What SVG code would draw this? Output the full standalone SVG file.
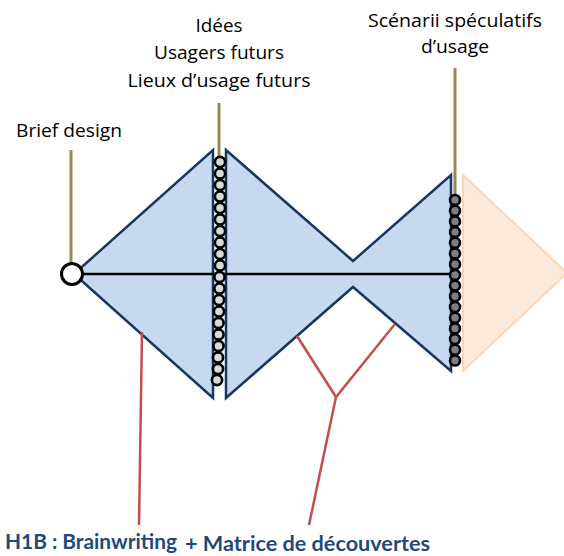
<svg xmlns="http://www.w3.org/2000/svg" width="564" height="556" viewBox="0 0 564 556">
<style>
.lbl{font-family:"Open Sans","Liberation Sans",sans-serif;font-size:19px;fill:#000;text-anchor:middle}
.bot{font-family:Lato,"Open Sans","Liberation Sans",sans-serif;font-size:21px;font-weight:bold;fill:#1f497d}
.blue{fill:#c6d9f1;stroke:#17375e;stroke-width:2.5;stroke-linejoin:miter}
.stalk{stroke:#948a54;stroke-width:3;fill:none}
.red{stroke:#c0504d;stroke-width:2.5;fill:none}
.c1{fill:#d9d9d9;stroke:#000;stroke-width:2.6}
.c2{fill:#7f7f7f;stroke:#000;stroke-width:2.6}
</style>
<rect width="564" height="556" fill="#fff"/>
<g id="shapes">
<polygon class="blue" points="74,274 213,150 213,398"/>
<polygon class="blue" points="226,150 353,261 451,175 451,371 353,287 226,398"/>
<polygon points="463,175 567,273 463,371" fill="#fde9d9" stroke="#fcd5b4" stroke-width="2"/>
</g>
<g id="connectors">
<line x1="74" y1="274" x2="451" y2="274" stroke="#000" stroke-width="2.5"/>
<line class="stalk" x1="71" y1="150" x2="71" y2="263"/>
<line class="stalk" x1="219" y1="103" x2="219" y2="157"/>
<line class="stalk" x1="455" y1="68" x2="455" y2="196"/>
<line class="red" x1="142" y1="332" x2="139" y2="525"/>
<polyline class="red" points="297,336 336,397 395,324"/>
<line class="red" x1="336" y1="397" x2="309" y2="525"/>
</g>
<g id="brief">
<circle cx="72" cy="274" r="10.5" fill="#fff" stroke="#000" stroke-width="3"/>
<text class="lbl" x="69" y="137" textLength="106" lengthAdjust="spacingAndGlyphs">Brief design</text>
</g>
<g id="ideas">
<circle class="c1" cx="220" cy="162" r="5.1"/>
<circle class="c1" cx="220" cy="173.5" r="5.1"/>
<circle class="c1" cx="220" cy="185" r="5.1"/>
<circle class="c1" cx="220" cy="196.5" r="5.1"/>
<circle class="c1" cx="220" cy="208" r="5.1"/>
<circle class="c1" cx="220" cy="219.5" r="5.1"/>
<circle class="c1" cx="220" cy="231" r="5.1"/>
<circle class="c1" cx="220" cy="242.5" r="5.1"/>
<circle class="c1" cx="220" cy="254" r="5.1"/>
<circle class="c1" cx="220" cy="265.5" r="5.1"/>
<circle class="c1" cx="219.5" cy="277" r="5.1"/>
<circle class="c1" cx="219.5" cy="288.5" r="5.1"/>
<circle class="c1" cx="219" cy="300" r="5.1"/>
<circle class="c1" cx="219" cy="311.5" r="5.1"/>
<circle class="c1" cx="218.5" cy="323" r="5.1"/>
<circle class="c1" cx="218.5" cy="334.5" r="5.1"/>
<circle class="c1" cx="218.5" cy="346" r="5.1"/>
<circle class="c1" cx="218" cy="357.5" r="5.1"/>
<circle class="c1" cx="218" cy="369" r="5.1"/>
<circle class="c1" cx="217" cy="380" r="5.1"/>
<text class="lbl" x="219" y="32" textLength="47" lengthAdjust="spacingAndGlyphs">Idées</text>
<text class="lbl" x="219" y="59" textLength="130" lengthAdjust="spacingAndGlyphs">Usagers futurs</text>
<text class="lbl" x="219" y="87" textLength="183" lengthAdjust="spacingAndGlyphs">Lieux d’usage futurs</text>
</g>
<g id="scenarios">
<circle class="c2" cx="455" cy="200" r="5"/>
<circle class="c2" cx="455" cy="210.7" r="5"/>
<circle class="c2" cx="455" cy="221.4" r="5"/>
<circle class="c2" cx="455" cy="232.1" r="5"/>
<circle class="c2" cx="455" cy="242.8" r="5"/>
<circle class="c2" cx="455" cy="253.5" r="5"/>
<circle class="c2" cx="455" cy="264.2" r="5"/>
<circle class="c2" cx="455" cy="274.9" r="5"/>
<circle class="c2" cx="455" cy="285.6" r="5"/>
<circle class="c2" cx="455" cy="296.3" r="5"/>
<circle class="c2" cx="455" cy="307" r="5"/>
<circle class="c2" cx="455" cy="317.7" r="5"/>
<circle class="c2" cx="455" cy="328.4" r="5"/>
<circle class="c2" cx="455" cy="339.1" r="5"/>
<circle class="c2" cx="455" cy="349.8" r="5"/>
<circle class="c2" cx="455" cy="360.5" r="5"/>
<text class="lbl" x="455" y="27" textLength="174" lengthAdjust="spacingAndGlyphs">Scénarii spéculatifs</text>
<text class="lbl" x="455" y="53" textLength="68" lengthAdjust="spacingAndGlyphs">d’usage</text>
</g>
<g id="methods">
<text class="bot" x="5" y="549" textLength="172" lengthAdjust="spacingAndGlyphs">H1B : Brainwriting</text>
<text class="bot" x="185" y="551" textLength="245" lengthAdjust="spacingAndGlyphs">+ Matrice de découvertes</text>
</g>
</svg>
